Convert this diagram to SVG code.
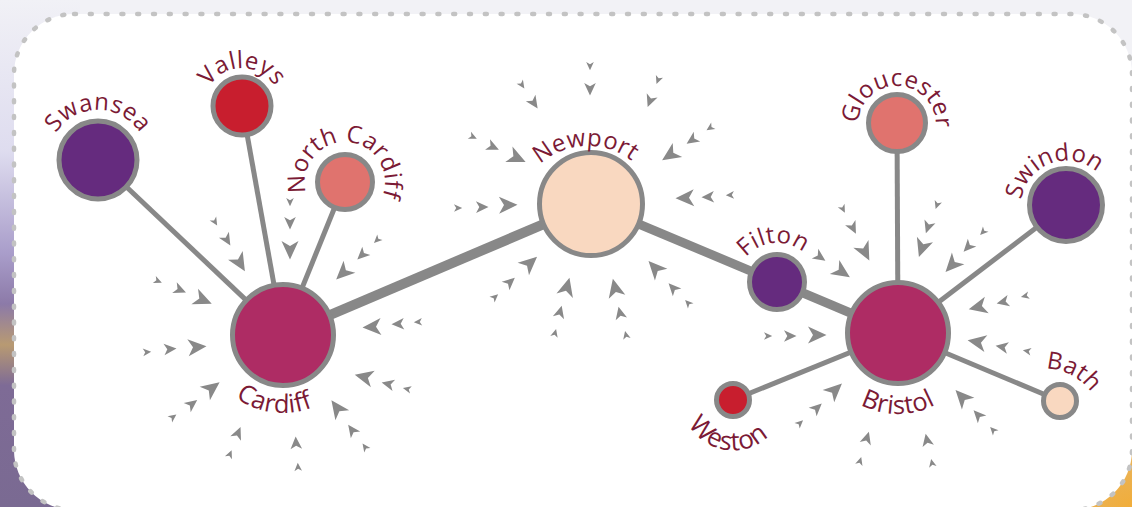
<svg xmlns="http://www.w3.org/2000/svg" width="1132" height="507" viewBox="0 0 1132 507">
<style>
.lbl{font-family:"Open Sans","Noto Sans",sans-serif;font-size:24px;font-weight:500;fill:#7b1a35;letter-spacing:0.3px}
.big{font-size:25.5px}
.wes{font-size:26px}
.node{stroke:#888;stroke-width:5}
.ln{stroke:#888;stroke-linecap:butt}
.thin{stroke-width:5}
.thick{stroke-width:10}
.arr{fill:#898989}
</style>
<defs>
<linearGradient id="lg" x1="0" y1="0" x2="0" y2="1">
<stop offset="0" stop-color="#f1f1f6"/>
<stop offset="0.3" stop-color="#dedcef"/>
<stop offset="0.5" stop-color="#a99dca"/>
<stop offset="0.6" stop-color="#8c7aa8"/>
<stop offset="0.68" stop-color="#b89a72"/>
<stop offset="0.76" stop-color="#7e6b96"/>
<stop offset="1" stop-color="#7a6a92"/>
</linearGradient>
<radialGradient id="rg" cx="1" cy="1" r="1">
<stop offset="0" stop-color="#f1ad3a"/>
<stop offset="0.6" stop-color="#e9b45c"/>
<stop offset="1" stop-color="#f2f2f6"/>
</radialGradient>
<path id="aL" d="M9.5,0 L-9,-8.5 L-4,0 L-9,8.5 Z"/>
<path id="aM" d="M6.5,0 L-6,-5.8 L-2.7,0 L-6,5.8 Z"/>
<path id="aS" d="M4.2,0 L-4,-3.8 L-1.8,0 L-4,3.8 Z"/>
<path id="pSwansea" d="M48,160 A50,50 0 0 1 148,160"/>
<path id="pValleys" d="M204,106 A38,38 0 0 1 280,106"/>
<path id="pNC" d="M309.4,200.2 A40,40 0 1 1 378.5,203.8"/>
<path id="pNewport" d="M516,220.5 A72,72 0 0 1 660,215.5"/>
<path id="pGlouc" d="M858.1,121 A39,39 0 0 1 935.9,125"/>
<path id="pSwindon" d="M1022.8,220.7 A46,46 0 0 1 1109.2,189.3"/>
<path id="pFilton" d="M736.2,285.6 A41,41 0 0 1 817.8,278.4"/>
<path id="pBath" d="M993.8,397.8 A58,58 0 0 1 1096.2,452.2"/>
<path id="pCardiff" d="M203.6,323.2 A80,80 0 0 0 362.4,342.8"/>
<path id="pBristol" d="M817,333 A81,81 0 0 0 979,333"/>
<path id="pWeston" d="M682.5,392.9 A51,51 0 0 0 783.5,407.1"/>
</defs>

<g id="background">
<rect width="1132" height="507" fill="#f2f2f6"/>
<rect x="0" y="0" width="80" height="507" fill="url(#lg)"/>
<rect x="1030" y="420" width="102" height="87" fill="url(#rg)"/>
<rect x="14" y="14" width="1118" height="496" rx="60" fill="#fff" stroke="#c3c3c3" stroke-width="4.5" stroke-dasharray="2 13.8" stroke-linecap="round"/>
</g>

<g id="arrows" class="arr">
<use href="#aS" transform="translate(158,281) rotate(23)"/><use href="#aM" transform="translate(180,290) rotate(23)"/><use href="#aL" transform="translate(203,300) rotate(23)"/>
<use href="#aS" transform="translate(147,352) rotate(-5)"/><use href="#aM" transform="translate(170,349) rotate(-5)"/><use href="#aL" transform="translate(197,347) rotate(-5)"/>
<use href="#aS" transform="translate(173,417) rotate(-37)"/><use href="#aM" transform="translate(192,404) rotate(-37)"/><use href="#aL" transform="translate(212,388) rotate(-37)"/>
<use href="#aS" transform="translate(230,454) rotate(-67)"/><use href="#aM" transform="translate(238,433) rotate(-67)"/>
<use href="#aS" transform="translate(298,467) rotate(-93)"/><use href="#aM" transform="translate(296,443) rotate(-93)"/>
<use href="#aS" transform="translate(365,447) rotate(-126)"/><use href="#aM" transform="translate(352,430) rotate(-126)"/><use href="#aL" transform="translate(337,408) rotate(-126)"/>
<use href="#aS" transform="translate(407,389) rotate(-167)"/><use href="#aM" transform="translate(388,384) rotate(-167)"/><use href="#aL" transform="translate(364,377) rotate(-167)"/>
<use href="#aS" transform="translate(418,322) rotate(177)"/><use href="#aM" transform="translate(398,324) rotate(177)"/><use href="#aL" transform="translate(372,327) rotate(177)"/>
<use href="#aS" transform="translate(377,240) rotate(136)"/><use href="#aM" transform="translate(362,255) rotate(136)"/><use href="#aL" transform="translate(343,273) rotate(136)"/>
<use href="#aS" transform="translate(290,202) rotate(90)"/><use href="#aM" transform="translate(290,223) rotate(90)"/><use href="#aL" transform="translate(290,250) rotate(90)"/>
<use href="#aS" transform="translate(215,222) rotate(59)"/><use href="#aM" transform="translate(227,240) rotate(59)"/><use href="#aL" transform="translate(240,263) rotate(59)"/>
<use href="#aS" transform="translate(590,66) rotate(90)"/><use href="#aM" transform="translate(590,89) rotate(90)"/>
<use href="#aS" transform="translate(522,85) rotate(56)"/><use href="#aM" transform="translate(534,103) rotate(56)"/>
<use href="#aS" transform="translate(658,80) rotate(111)"/><use href="#aM" transform="translate(650,101) rotate(111)"/>
<use href="#aS" transform="translate(473,137) rotate(25)"/><use href="#aM" transform="translate(493,147) rotate(25)"/><use href="#aL" transform="translate(517,158) rotate(25)"/>
<use href="#aS" transform="translate(458,208) rotate(-1)"/><use href="#aM" transform="translate(482,207) rotate(-1)"/><use href="#aL" transform="translate(508,205) rotate(-1)"/>
<use href="#aS" transform="translate(710,128) rotate(146)"/><use href="#aM" transform="translate(692,140) rotate(146)"/><use href="#aL" transform="translate(670,155) rotate(146)"/>
<use href="#aS" transform="translate(730,195) rotate(178)"/><use href="#aM" transform="translate(708,197) rotate(178)"/><use href="#aL" transform="translate(685,198) rotate(178)"/>
<use href="#aS" transform="translate(495,297) rotate(-42)"/><use href="#aM" transform="translate(510,282) rotate(-42)"/><use href="#aL" transform="translate(530,263) rotate(-42)"/>
<use href="#aS" transform="translate(555,333) rotate(-75)"/><use href="#aM" transform="translate(560,312) rotate(-75)"/><use href="#aL" transform="translate(567,287) rotate(-75)"/>
<use href="#aS" transform="translate(626,335) rotate(-103)"/><use href="#aM" transform="translate(620,313) rotate(-103)"/><use href="#aL" transform="translate(615,288) rotate(-103)"/>
<use href="#aS" transform="translate(688,303) rotate(-133)"/><use href="#aM" transform="translate(673,288) rotate(-133)"/><use href="#aL" transform="translate(655,268) rotate(-133)"/>
<use href="#aM" transform="translate(820,257) rotate(34)"/><use href="#aL" transform="translate(842,272) rotate(34)"/>
<use href="#aS" transform="translate(843,209) rotate(63)"/><use href="#aM" transform="translate(853,228) rotate(63)"/><use href="#aL" transform="translate(865,252) rotate(63)"/>
<use href="#aS" transform="translate(937,205) rotate(109)"/><use href="#aM" transform="translate(928,227) rotate(109)"/><use href="#aL" transform="translate(922,248) rotate(109)"/>
<use href="#aS" transform="translate(983,232) rotate(133)"/><use href="#aM" transform="translate(968,247) rotate(133)"/><use href="#aL" transform="translate(952,265) rotate(133)"/>
<use href="#aS" transform="translate(1025,296) rotate(167)"/><use href="#aM" transform="translate(1003,302) rotate(167)"/><use href="#aL" transform="translate(978,307) rotate(167)"/>
<use href="#aS" transform="translate(1027,351) rotate(-170)"/><use href="#aM" transform="translate(1002,347) rotate(-170)"/><use href="#aL" transform="translate(977,342) rotate(-170)"/>
<use href="#aS" transform="translate(993,430) rotate(-133)"/><use href="#aM" transform="translate(978,415) rotate(-133)"/><use href="#aL" transform="translate(962,397) rotate(-133)"/>
<use href="#aS" transform="translate(932,463) rotate(-102)"/><use href="#aM" transform="translate(927,440) rotate(-102)"/>
<use href="#aS" transform="translate(860,461) rotate(-73)"/><use href="#aM" transform="translate(867,438) rotate(-73)"/>
<use href="#aS" transform="translate(800,423) rotate(-43)"/><use href="#aM" transform="translate(817,408) rotate(-43)"/><use href="#aL" transform="translate(835,390) rotate(-43)"/>
<use href="#aS" transform="translate(768,336) rotate(0)"/><use href="#aM" transform="translate(790,336) rotate(0)"/><use href="#aL" transform="translate(817,335) rotate(0)"/>
</g>

<g id="connectors">
<line class="ln thin" x1="98" y1="160" x2="283" y2="335"/>
<line class="ln thin" x1="242" y1="106" x2="283" y2="335"/>
<line class="ln thin" x1="345" y1="182" x2="283" y2="335"/>
<line class="ln thick" x1="283" y1="335" x2="591" y2="204"/>
<line class="ln" stroke-width="9" x1="591" y1="204" x2="777" y2="282"/>
<line class="ln" stroke-width="9" x1="777" y1="282" x2="898" y2="333"/>
<line class="ln thin" x1="897" y1="123" x2="898" y2="333"/>
<line class="ln thin" x1="1066" y1="205" x2="898" y2="333"/>
<line class="ln thin" x1="733" y1="400" x2="898" y2="333"/>
<line class="ln thin" x1="1060" y1="401" x2="898" y2="333"/>
</g>

<g id="node-swansea"><circle class="node" cx="98" cy="160" r="39" fill="#652b7e"/><text class="lbl"><textPath href="#pSwansea" startOffset="50%" text-anchor="middle">Swansea</textPath></text></g>
<g id="node-valleys"><circle class="node" cx="242" cy="106" r="29" fill="#c81e2e"/><text class="lbl"><textPath href="#pValleys" startOffset="50%" text-anchor="middle">Valleys</textPath></text></g>
<g id="node-north-cardiff"><circle class="node" cx="345" cy="182" r="27.5" fill="#e0736e"/><text class="lbl"><textPath href="#pNC" startOffset="50%" text-anchor="middle">North Cardiff</textPath></text></g>
<g id="node-cardiff"><circle class="node" cx="283" cy="335" r="50.5" fill="#ae2c64"/><text class="lbl big"><textPath href="#pCardiff" startOffset="50%" text-anchor="middle">Cardiff</textPath></text></g>
<g id="node-newport"><circle class="node" cx="591" cy="204" r="51.5" fill="#f9d8c0"/><text class="lbl"><textPath href="#pNewport" startOffset="50%" text-anchor="middle">Newport</textPath></text></g>
<g id="node-filton"><circle class="node" cx="777" cy="282" r="27.5" fill="#652b7e"/><text class="lbl"><textPath href="#pFilton" startOffset="50%" text-anchor="middle">Filton</textPath></text></g>
<g id="node-gloucester"><circle class="node" cx="897" cy="123" r="28.5" fill="#e0736e"/><text class="lbl"><textPath href="#pGlouc" startOffset="50%" text-anchor="middle">Gloucester</textPath></text></g>
<g id="node-swindon"><circle class="node" cx="1066" cy="205" r="36.5" fill="#652b7e"/><text class="lbl"><textPath href="#pSwindon" startOffset="50%" text-anchor="middle">Swindon</textPath></text></g>
<g id="node-bristol"><circle class="node" cx="898" cy="333" r="50.5" fill="#ae2c64"/><text class="lbl big"><textPath href="#pBristol" startOffset="50%" text-anchor="middle">Bristol</textPath></text></g>
<g id="node-weston"><circle class="node" cx="733" cy="400" r="16.5" fill="#c81e2e"/><text class="lbl wes"><textPath href="#pWeston" startOffset="50%" text-anchor="middle">Weston</textPath></text></g>
<g id="node-bath"><circle class="node" cx="1060" cy="401" r="16.5" fill="#f9d8c0"/><text class="lbl"><textPath href="#pBath" startOffset="50%" text-anchor="middle">Bath</textPath></text></g>
</svg>
